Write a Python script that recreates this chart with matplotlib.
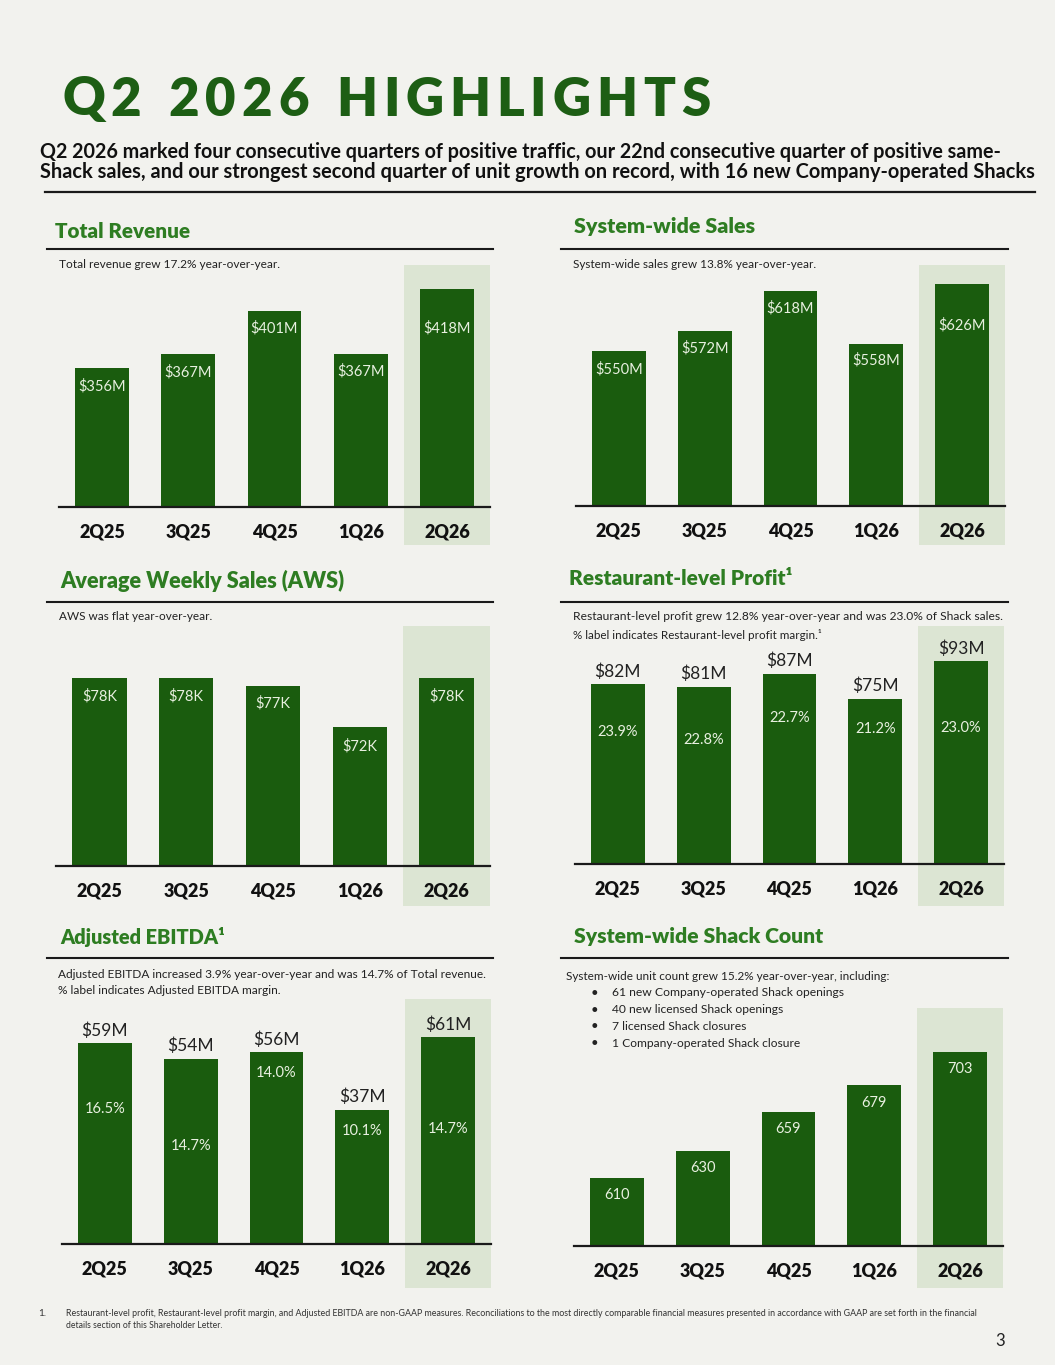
import matplotlib
matplotlib.use("Agg")
import matplotlib.pyplot as plt
from matplotlib.patches import Rectangle
from matplotlib.lines import Line2D

# Данные
quarters = ['2Q25', '3Q25', '4Q25', '1Q26', '2Q26']
revenue = [356, 367, 401, 367, 418]
system_sales = [550, 572, 618, 558, 626]
aws = [78, 78, 77, 72, 78]
rlp = [82, 81, 87, 75, 93]
rlp_margin = [23.9, 22.8, 22.7, 21.2, 23.0]
ebitda = [59, 54, 56, 37, 61]
ebitda_margin = [16.5, 14.7, 14.0, 10.1, 14.7]
shack_count = [610, 630, 659, 679, 703]

bullets = ['61 new Company-operated Shack openings',
           '40 new licensed Shack openings',
           '7 licensed Shack closures',
           '1 Company-operated Shack closure']

# Цвета и шрифты
BG = '#F2F2EE'
BAR = '#1A5C0E'
HL = '#DCE5D3'
GREEN_T = '#2E7D22'
DARK_T = '#1D5E14'
INK = '#1A1A1A'
LAB = '#E8F0E0'
HEAD = ['Lato', 'DejaVu Sans']

W, H = 1055, 1365
fig = plt.figure(figsize=(W / 100, H / 100), dpi=100, facecolor=BG)
renderer = fig.canvas.get_renderer()


def fx(x):
    return x / W


def fy(y):
    return 1 - y / H


def ftext(x, y, s, width=None, **kw):
    # текст; если задана ширина в пикселях, подгоняем размер шрифта
    kw.setdefault('va', 'center')
    t = fig.text(fx(x), fy(y), s, **kw)
    if width is not None:
        w = t.get_window_extent(renderer).width
        t.set_fontsize(t.get_fontsize() * width / w)
    return t


def hline(x0, x1, y, lw=1.5, color=INK):
    fig.add_artist(Line2D([fx(x0), fx(x1)], [fy(y), fy(y)], lw=lw, color=color,
                          transform=fig.transFigure))


def tracked(x, y, s, width, **kw):
    # текст с разрядкой: буквы по одной, чтобы занять нужную ширину
    arts, ws = [], []
    for ch in s:
        if ch == ' ':
            arts.append(None)
            ws.append(0)
            continue
        t = ftext(x, y, ch, **kw)
        arts.append(t)
        ws.append(t.get_window_extent(renderer).width)
    space = kw.get('fontsize', 10) * 100 / 72 * 0.3
    n_sp = s.count(' ')
    track = (width - sum(ws) - n_sp * space) / (len(s) - 1)
    cur = x
    for a, w in zip(arts, ws):
        if a is None:
            cur += space + track
            continue
        a.set_x(fx(cur))
        cur += w + track


def panel(L, R, B, T, hb, values, floor, ppu, inside=None, inside_off=None,
          above=None, pct=None, pct_off=None):
    ax = fig.add_axes([fx(L), fy(B), (R - L) / W, (B - T) / H])
    ax.set_facecolor('none')
    x = list(range(len(values)))
    ax.set_xlim(-0.5, 4.5)
    ax.set_ylim(floor, floor + (B - T) / ppu)
    # подсветка последнего квартала
    ax.add_patch(Rectangle((3.5, (B - hb) / (B - T)), 1.0, 1 - (B - hb) / (B - T),
                           transform=ax.get_xaxis_transform(), color=HL,
                           clip_on=False, zorder=0, lw=0))
    ax.bar(x, [v - floor for v in values], bottom=floor, width=0.625,
           color=BAR, zorder=2)
    for s in ['top', 'right', 'left']:
        ax.spines[s].set_visible(False)
    ax.spines['bottom'].set_linewidth(1.6)
    ax.spines['bottom'].set_color(INK)
    ax.spines['bottom'].set_zorder(3)
    ax.set_yticks([])
    ax.set_xticks([])
    for i, q in enumerate(quarters):
        ax.annotate(q, (i, 0), xycoords=('data', 'axes fraction'),
                    xytext=(0, -25 * 0.72), textcoords='offset points',
                    ha='center', va='center', fontsize=13, fontweight='heavy',
                    family=HEAD, color='#111111')
    if inside is not None:
        for i, (v, s) in enumerate(zip(values, inside)):
            ax.annotate(s, (i, v), xytext=(0, -inside_off[i] * 0.72),
                        textcoords='offset points', ha='center', va='center',
                        fontsize=10.5, family=HEAD, color=LAB, zorder=4)
    if above is not None:
        for i, (v, s) in enumerate(zip(values, above)):
            ax.annotate(s, (i, v), xytext=(0, 13 * 0.72),
                        textcoords='offset points', ha='center', va='center',
                        fontsize=12.5, family=HEAD, color='#222222')
        for i, (v, p) in enumerate(zip(values, pct)):
            ax.annotate(f'{p:.1f}%', (i, v), xytext=(0, -pct_off[i] * 0.72),
                        textcoords='offset points', ha='center', va='center',
                        fontsize=10.5, family=HEAD, color=LAB, zorder=4)
    return ax


# Заголовок страницы
tracked(62, 100, 'Q2 2026 HIGHLIGHTS', 648, fontsize=38, fontweight='heavy',
        family=HEAD, color=DARK_T)
hdr = dict(fontsize=14, fontweight='bold', family=HEAD, color='#111111')
ftext(40, 152, 'Q2 2026 marked four consecutive quarters of positive traffic, '
      'our 22nd consecutive quarter of positive same-', width=965, **hdr)
ftext(40, 172, 'Shack sales, and our strongest second quarter of unit growth on '
      'record, with 16 new Company-operated Shacks', width=1000, **hdr)
hline(45, 1035, 192, lw=1.6)

# Заголовки секций
titles = [(55, 231, 'Total Revenue', 135), (574, 227, 'System-wide Sales', 181),
          (60, 581, 'Average Weekly Sales (AWS)', 285),
          (569, 578, 'Restaurant-level Profit¹', 222),
          (60, 937, 'Adjusted EBITDA¹', 165), (574, 937, 'System-wide Shack Count', 250)]
for x, y, s, w in titles:
    ftext(x, y, s, width=w, fontsize=14, fontweight='heavy', family=HEAD, color=GREEN_T)
for y in [249, 602, 958]:
    hline(47, 493, y)
    hline(561, 1008, y)

sub = dict(fontsize=9.5, family=HEAD, color='#222222')
ftext(59, 265, 'Total revenue grew 17.2% year-over-year.', width=221, **sub)
ftext(573, 265, 'System-wide sales grew 13.8% year-over-year.', width=244, **sub)
ftext(59, 617, 'AWS was flat year-over-year.', width=154, **sub)
ftext(573, 617, 'Restaurant-level profit grew 12.8% year-over-year and was 23.0% of Shack sales.',
      width=429, **sub)
ftext(573, 635, '% label indicates Restaurant-level profit margin.¹', width=250, **sub)
ftext(58, 974, 'Adjusted EBITDA increased 3.9% year-over-year and was 14.7% of Total revenue.',
      width=431, **sub)
ftext(58, 991, '% label indicates Adjusted EBITDA margin.', width=223, **sub)
ftext(566, 977, 'System-wide unit count grew 15.2% year-over-year, including:', width=323, **sub)
bullet_w = [233, 173, 135, 189]
for k, (b, w) in enumerate(zip(bullets, bullet_w)):
    yb = 993 + k * 16.7
    ftext(591, yb, '•', **sub)
    ftext(612, yb, b, width=w, **sub)

# Графики
panel(59, 490, 507, 265, 545, revenue, 247, 1.274,
      inside=[f'${v}M' for v in revenue], inside_off=[18, 18, 17, 17, 39])
panel(576, 1005, 506, 265, 545, system_sales, 374, 0.882,
      inside=[f'${v}M' for v in system_sales], inside_off=[18, 17, 17, 17, 42])
panel(56, 490, 866, 626, 906, aws, 55, 8.17,
      inside=[f'${v}K' for v in aws], inside_off=[18, 18, 17, 19, 18])
panel(575, 1004, 864, 626, 906, rlp, -3.5, 2.1,
      above=[f'${v}M' for v in rlp], pct=rlp_margin, pct_off=[48, 53, 44, 30, 67])
panel(62, 491, 1244, 999, 1288, ebitda, -7, 3.04,
      above=[f'${v}M' for v in ebitda], pct=ebitda_margin, pct_off=[66, 87, 21, 21, 92])
panel(574, 1003, 1246, 1008, 1288, shack_count, 560, 1.355,
      inside=[str(v) for v in shack_count], inside_off=[17, 17, 17, 18, 17])

# Сноска
foot = dict(fontsize=7, family=HEAD, color='#333333')
ftext(38, 1314, '1.', **foot)
ftext(66, 1314, 'Restaurant-level profit, Restaurant-level profit margin, and Adjusted EBITDA are '
      'non-GAAP measures. Reconciliations to the most directly comparable financial measures '
      'presented in accordance with GAAP are set forth in the financial', width=912, **foot)
ftext(66, 1326, 'details section of this Shareholder Letter.', width=156, **foot)
ftext(995, 1341, '3', fontsize=12, family=HEAD, color='#222222')

fig.savefig('out.png', dpi=100, facecolor=BG)
